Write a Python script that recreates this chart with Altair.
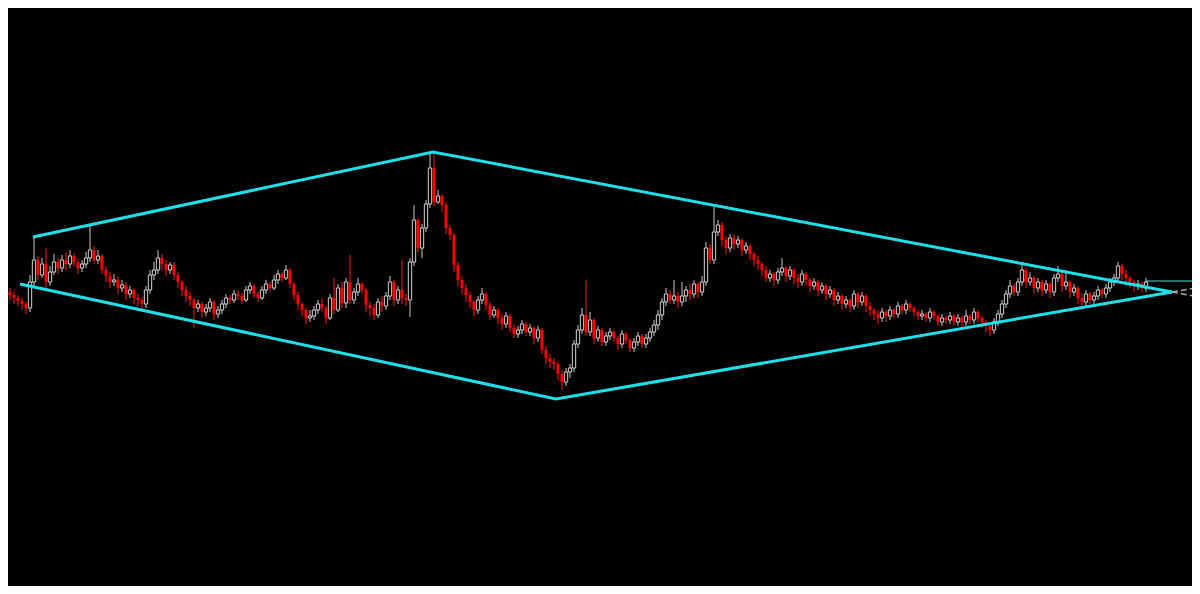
import altair as alt
import pandas as pd
import numpy as np

# ---- candle data (index = trading session, values = price) ----
first_open = 308
close = [
    305, 302, 299, 296, 292, 318, 340, 325, 336, 318,
    328, 338, 332, 340, 336, 344, 338, 332, 336, 342,
    350, 340, 344, 330, 324, 318, 320, 312, 315, 306,
    310, 302, 300, 296, 310, 325, 330, 342, 336, 330,
    335, 325, 318, 310, 304, 300, 292, 296, 288, 292,
    298, 286, 290, 296, 302, 300, 306, 304, 300, 310,
    314, 306, 302, 310, 316, 312, 320, 326, 322, 330,
    316, 305, 296, 290, 282, 284, 290, 296, 292, 282,
    302, 290, 312, 297, 318, 300, 308, 316, 310, 295,
    292, 285, 298, 294, 304, 318, 300, 310, 302, 300,
    338, 380, 352, 372, 396, 432, 398, 404, 395, 372,
    365, 335, 320, 312, 305, 298, 290, 300, 306, 295,
    285, 290, 282, 276, 284, 272, 266, 270, 276, 268,
    272, 262, 270, 250, 242, 238, 236, 226, 218, 228,
    232, 256, 270, 285, 268, 280, 262, 270, 258, 264,
    268, 262, 256, 266, 260, 252, 258, 264, 256, 262,
    268, 275, 285, 298, 306, 300, 304, 298, 304, 310,
    306, 316, 308, 318, 352, 340, 368, 375, 360, 352,
    362, 356, 360, 350, 354, 346, 340, 336, 330, 322,
    326, 320, 328, 332, 324, 330, 322, 318, 326, 320,
    314, 318, 310, 314, 306, 310, 300, 304, 296, 300,
    294, 306, 298, 304, 294, 290, 286, 282, 288, 284,
    290, 286, 294, 290, 296, 292, 288, 284, 286, 282,
    288, 284, 278, 282, 280, 284, 278, 282, 278, 284,
    280, 288, 282, 278, 274, 270, 278, 286, 296, 306,
    314, 308, 318, 330, 318, 322, 312, 318, 310, 316,
    308, 322, 326, 314, 318, 308, 312, 302, 298, 306,
    300, 304, 310, 306, 312, 318, 322, 334, 326, 322,
    318, 314, 316, 312, 318,
]
high = [
    312, 308, 305, 302, 298, 325, 363, 344, 342, 352,
    334, 346, 342, 345, 348, 350, 347, 341, 340, 348,
    374, 354, 350, 346, 334, 328, 326, 324, 320, 318,
    314, 312, 306, 303, 314, 330, 338, 350, 346, 340,
    338, 338, 328, 320, 314, 308, 302, 300, 298, 296,
    302, 300, 294, 300, 306, 305, 310, 310, 307, 314,
    318, 316, 308, 314, 320, 318, 325, 330, 328, 335,
    332, 318, 308, 298, 292, 290, 294, 300, 302, 294,
    306, 322, 316, 318, 322, 345, 312, 322, 318, 312,
    298, 296, 302, 304, 308, 324, 320, 314, 340, 306,
    342, 395, 382, 376, 400, 446, 448, 410, 406, 398,
    375, 367, 338, 324, 316, 308, 300, 304, 312, 308,
    298, 294, 292, 286, 288, 286, 276, 274, 280, 278,
    276, 274, 274, 272, 254, 246, 242, 238, 230, 232,
    236, 260, 275, 292, 320, 288, 282, 274, 272, 268,
    272, 270, 264, 270, 268, 262, 262, 268, 266, 266,
    272, 280, 290, 302, 312, 310, 320, 308, 318, 314,
    316, 320, 318, 324, 358, 356, 393, 380, 378, 364,
    366, 366, 364, 362, 358, 356, 348, 344, 338, 334,
    330, 328, 332, 342, 334, 334, 332, 326, 330, 328,
    322, 322, 320, 318, 316, 314, 312, 308, 306, 304,
    302, 310, 308, 308, 306, 298, 292, 290, 292, 290,
    294, 292, 298, 296, 300, 298, 294, 290, 290, 288,
    292, 290, 286, 286, 284, 288, 286, 286, 284, 290,
    286, 292, 290, 284, 280, 276, 282, 290, 300, 310,
    320, 316, 322, 338, 332, 328, 324, 322, 320, 320,
    318, 326, 334, 328, 330, 320, 316, 314, 306, 310,
    308, 308, 314, 312, 316, 322, 326, 338, 336, 330,
    324, 320, 320, 318, 322,
]
low = [
    300, 296, 294, 290, 286, 288, 314, 320, 322, 310,
    314, 325, 326, 328, 330, 332, 334, 326, 328, 332,
    338, 336, 336, 326, 318, 312, 314, 306, 308, 300,
    302, 296, 294, 290, 292, 306, 320, 326, 330, 324,
    326, 320, 312, 304, 298, 294, 272, 288, 282, 284,
    288, 280, 282, 286, 292, 296, 297, 300, 296, 298,
    306, 302, 298, 300, 306, 308, 310, 316, 318, 320,
    312, 300, 290, 284, 276, 278, 280, 286, 288, 276,
    280, 286, 288, 292, 292, 296, 296, 304, 306, 288,
    284, 280, 282, 288, 290, 300, 294, 296, 296, 294,
    283, 334, 348, 342, 368, 392, 394, 396, 388, 366,
    360, 328, 314, 306, 298, 292, 284, 286, 296, 290,
    280, 282, 276, 270, 272, 268, 262, 262, 266, 264,
    264, 256, 258, 246, 236, 232, 230, 220, 210, 214,
    222, 228, 252, 266, 264, 264, 256, 258, 254, 254,
    260, 258, 250, 252, 256, 248, 248, 254, 252, 252,
    258, 264, 270, 280, 294, 296, 296, 292, 294, 298,
    300, 302, 302, 304, 314, 336, 336, 364, 354, 346,
    348, 350, 352, 344, 346, 340, 334, 330, 324, 318,
    318, 314, 316, 324, 318, 320, 316, 312, 314, 314,
    308, 310, 304, 306, 300, 302, 294, 296, 290, 292,
    288, 290, 292, 294, 288, 284, 280, 276, 278, 278,
    280, 282, 282, 286, 286, 288, 284, 280, 280, 278,
    278, 280, 274, 274, 276, 276, 274, 274, 272, 274,
    276, 276, 278, 272, 268, 264, 266, 274, 282, 292,
    302, 304, 304, 314, 312, 314, 306, 308, 304, 306,
    302, 304, 318, 308, 310, 302, 304, 296, 292, 294,
    296, 296, 300, 302, 302, 308, 314, 318, 320, 316,
    312, 308, 310, 308, 308,
]

# ---- drawn trend lines (session index, price) ----
upper_x = [5.75, 105.75, 290.5]
upper_p = [363, 448, 308]
lower_x = [2.5, 136.5, 290.5]
lower_p = [316, 201, 308]
ext_up_x = [290.5, 295.5]
ext_up_p = [308, 304.2]
ext_dn_x = [290.5, 295.5]
ext_dn_p = [308, 311.5]
level_x = [284, 295.5]
level_p = [319, 319]

opens = [first_open] + close[:-1]
df = pd.DataFrame({"i": np.arange(len(close)), "open": opens, "close": close,
                   "high": high, "low": low})
df["dir"] = np.where(df["close"] >= df["open"], "up", "down")
df["top"] = np.maximum(df["open"], df["close"])
df["bot"] = np.minimum(df["open"], df["close"])
df["top"] = np.where(df["top"] - df["bot"] < 1.2, df["bot"] + 1.2, df["top"])

XS = alt.Scale(domain=[-0.5, 295.5], nice=False, zero=False)
YS = alt.Scale(domain=[14, 592], nice=False, zero=False)

base = alt.Chart(df)

wicks = base.mark_rule(strokeWidth=1).encode(
    x=alt.X("i:Q", scale=XS, axis=None),
    y=alt.Y("low:Q", scale=YS, axis=None),
    y2="high:Q",
    color=alt.Color("dir:N", scale=alt.Scale(domain=["up", "down"], range=["#c8c8c8", "#ff1a1a"]), legend=None),
)

up_bodies = base.transform_filter(alt.datum.dir == "up").transform_calculate(
    x0="datum.i - 0.42", x1="datum.i + 0.42"
).mark_rect(fill="black", stroke="#d4d4d4", strokeWidth=1).encode(
    x=alt.X("x0:Q", scale=XS, axis=None), x2="x1:Q",
    y=alt.Y("bot:Q", scale=YS, axis=None), y2="top:Q",
)

down_bodies = base.transform_filter(alt.datum.dir == "down").transform_calculate(
    x0="datum.i - 0.38", x1="datum.i + 0.38"
).mark_rect(fill="#ff0000").encode(
    x=alt.X("x0:Q", scale=XS, axis=None), x2="x1:Q",
    y=alt.Y("bot:Q", scale=YS, axis=None), y2="top:Q",
)

lines_df = pd.DataFrame(
    [{"seg": "upper", "x": x, "p": p} for x, p in zip(upper_x, upper_p)]
    + [{"seg": "lower", "x": x, "p": p} for x, p in zip(lower_x, lower_p)]
)
trend = alt.Chart(lines_df).mark_line(color="#1ee0ea", strokeWidth=3).encode(
    x=alt.X("x:Q", scale=XS, axis=None),
    y=alt.Y("p:Q", scale=YS, axis=None),
    detail="seg:N",
)

ext_df = pd.DataFrame(
    [{"seg": "a", "x": x, "p": p} for x, p in zip(ext_up_x, ext_up_p)]
    + [{"seg": "b", "x": x, "p": p} for x, p in zip(ext_dn_x, ext_dn_p)]
)
ext = alt.Chart(ext_df).mark_line(color="#a8a8a8", strokeWidth=1.5, strokeDash=[6, 3], clip=True).encode(
    x=alt.X("x:Q", scale=XS, axis=None),
    y=alt.Y("p:Q", scale=YS, axis=None),
    detail="seg:N",
)

lvl_df = pd.DataFrame({"x": level_x, "p": level_p})
lvl = alt.Chart(lvl_df).mark_line(color="#1f6e6c", strokeWidth=2, clip=True).encode(
    x=alt.X("x:Q", scale=XS, axis=None),
    y=alt.Y("p:Q", scale=YS, axis=None),
)

chart = alt.layer(lvl, wicks, up_bodies, down_bodies, trend, ext).properties(
    width=1184, height=578, padding=0, background="black",
    autosize=alt.AutoSizeParams(type="none"),
).configure_view(strokeWidth=0)

chart.save("out.html", embed_options={"renderer": "svg", "actions": False})
